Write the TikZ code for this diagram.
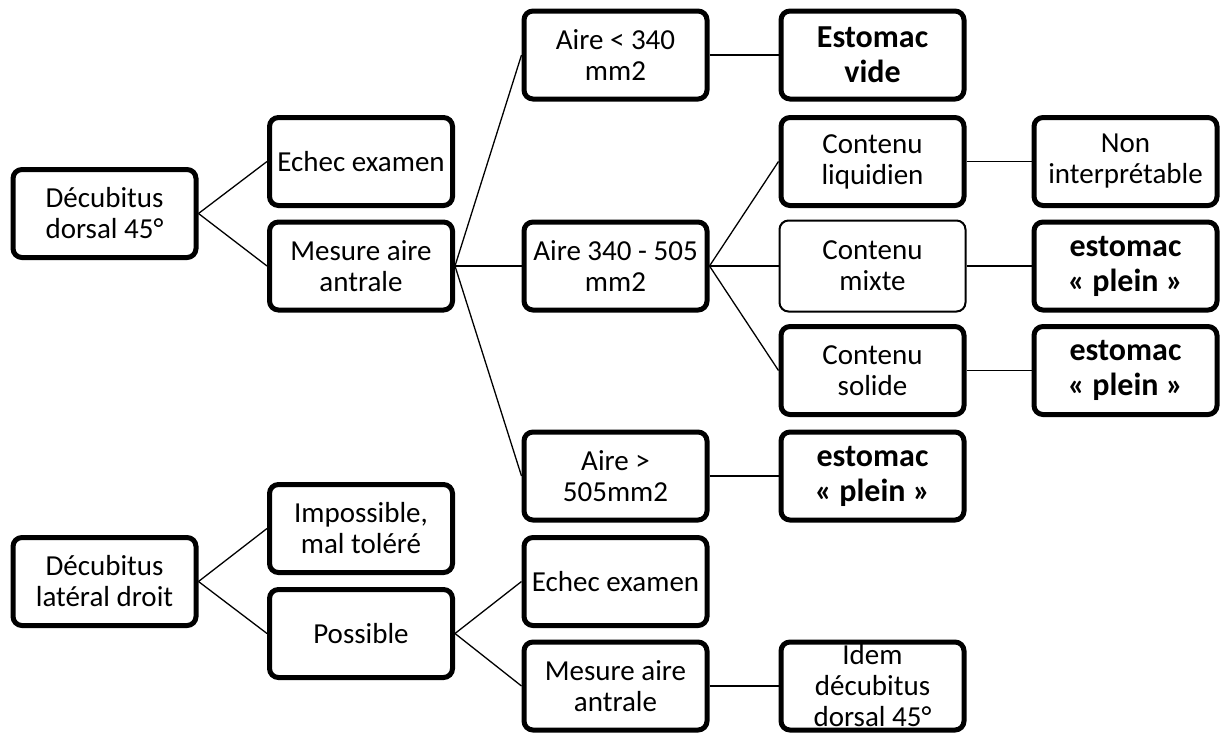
\documentclass[tikz,border=0pt]{standalone}
\usepackage{fontspec}
\setmainfont{Carlito}
\begin{document}
\begin{tikzpicture}[x=1pt,y=-1pt,
  box/.style={draw=black, line width=5pt, rounded corners=9pt, fill=white,
    minimum width=183pt, minimum height=88pt, align=center, inner sep=1pt,
    font=\fontsize{29}{31}\selectfont},
  boldbox/.style={box, font=\fontsize{32}{35}\selectfont\bfseries},
  thinbox/.style={box, line width=2pt, minimum width=186pt, minimum height=91pt},
  link/.style={draw=black, line width=1.3pt}]
\useasboundingbox (0,0) rectangle (1226,734);
% column 1
\node[box] (dd) at (104.5,213.5) {Décubitus\\dorsal 45°};
\node[box] (dl) at (104.5,581.5) {Décubitus\\latéral droit};
% column 2
\node[box] (ee1) at (361,161.5) {Echec examen};
\node[box] (ma1) at (361,266) {Mesure aire\\antrale};
\node[box] (imp) at (361,528.5) {Impossible,\\mal toléré};
\node[box] (pos) at (361,633.5) {Possible};
% column 3
\node[box] (a1) at (615.5,55) {Aire < 340\\mm2};
\node[box] (a2) at (615.5,266) {Aire 340 - 505\\mm2};
\node[box] (a3) at (615.5,476) {Aire >\\505mm2};
\node[box] (ee2) at (615.5,581.5) {Echec examen};
\node[box] (ma2) at (615.5,686) {Mesure aire\\antrale};
% column 4
\node[boldbox] (ev) at (872.5,55) {Estomac\\vide};
\node[box] (cl) at (872.5,161.5) {Contenu\\liquidien};
\node[thinbox] (cm) at (872.5,266) {Contenu\\mixte};
\node[box] (cs) at (872.5,370.5) {Contenu\\solide};
\node[boldbox] (ep3) at (872.5,476) {estomac\\« plein »};
\node[box] (idem) at (872.5,686) {Idem\\décubitus\\dorsal 45°};
% column 5
\node[box] (ni) at (1125.5,161.5) {Non\\interprétable};
\node[boldbox] (ep1) at (1125.5,266) {estomac\\« plein »};
\node[boldbox] (ep2) at (1125.5,370.5) {estomac\\« plein »};
% connectors
\path[link] (dd.east) -- (ee1.west);
\path[link] (dd.east) -- (ma1.west);
\path[link] (ma1.east) -- (a1.west);
\path[link] (ma1.east) -- (a2.west);
\path[link] (ma1.east) -- (a3.west);
\path[link] (a1.east) -- (ev.west);
\path[link] (a2.east) -- (cl.west);
\path[link] (a2.east) -- (cm.west);
\path[link] (a2.east) -- (cs.west);
\path[link] (cl.east) -- (ni.west);
\path[link] (cm.east) -- (ep1.west);
\path[link] (cs.east) -- (ep2.west);
\path[link] (a3.east) -- (ep3.west);
\path[link] (dl.east) -- (imp.west);
\path[link] (dl.east) -- (pos.west);
\path[link] (pos.east) -- (ee2.west);
\path[link] (pos.east) -- (ma2.west);
\path[link] (ma2.east) -- (idem.west);
\end{tikzpicture}
\end{document}
